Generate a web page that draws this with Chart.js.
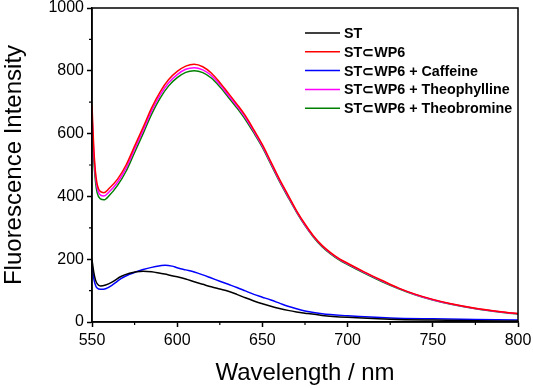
<!DOCTYPE html>
<html>
<head>
<meta charset="utf-8">
<script src="https://cdn.jsdelivr.net/npm/chart.js@4.4.0/dist/chart.umd.min.js"></script>
<style>
  html, body { margin: 0; padding: 0; background: #fff; }
  #wrap { width: 533px; height: 388px; position: relative; }
</style>
</head>
<body>
<div id="wrap"><canvas id="spectraChart" width="533" height="388"></canvas></div>
<script>
// Emission spectra, wavelength (nm) -> fluorescence intensity
const seriesLabels = ['ST', 'ST\u2282WP6', 'ST\u2282WP6 + Caffeine', 'ST\u2282WP6 + Theophylline', 'ST\u2282WP6 + Theobromine'];
const seriesColors = ['#000000', '#ff0000', '#0000ff', '#ff00ff', '#008000'];

const hostWl = [550, 551, 552, 553, 555, 557, 560, 565, 570, 575, 580, 585, 590, 595, 600, 605, 610, 615, 620, 625, 630, 635, 640, 645, 650, 655, 660, 665, 670, 675, 680, 685, 690, 695, 700, 710, 720, 730, 740, 750, 760, 775, 790, 800];
const stWp6 =       [690, 560, 480, 440, 415, 412, 425, 455, 500, 560, 620, 682, 733, 772, 798, 815, 821, 813, 793, 763, 729, 694, 657, 612, 565, 510, 455, 405, 355, 312, 274, 244, 221, 202, 187, 159, 133, 108, 88, 72, 59, 44, 33, 27];
const theophylline = [660, 545, 468, 428, 404, 401, 414, 445, 490, 550, 610, 672, 723, 762, 788, 805, 810, 803, 785, 756, 722, 688, 651, 607, 560, 506, 451, 401, 352, 309, 272, 242, 219, 200, 185, 157, 131, 107, 87, 71, 58, 43, 32, 26];
const theobromine =  [620, 520, 450, 412, 392, 389, 402, 435, 480, 540, 600, 662, 713, 752, 778, 795, 800, 794, 777, 749, 716, 682, 645, 602, 556, 502, 448, 398, 350, 307, 270, 240, 217, 198, 183, 155, 129, 106, 86, 70, 57, 42, 31, 25];

const stWl = [550, 551, 552, 553, 555, 558, 562, 567, 572, 576, 580, 585, 590, 595, 600, 605, 610, 615, 620, 625, 630, 635, 640, 645, 650, 655, 660, 665, 670, 675, 685, 700, 725, 750, 775, 800];
const stAlone =  [198, 160, 135, 122, 115, 118, 128, 145, 155, 160, 162, 160, 155, 150, 144, 137, 128, 120, 112, 105, 98, 88, 77, 67, 58, 50, 43, 37, 32, 28, 21, 15, 9, 6, 4, 3];

const caffWl = [550, 551, 552, 553, 555, 558, 562, 567, 572, 576, 580, 585, 590, 593, 597, 600, 605, 610, 615, 620, 625, 630, 635, 640, 645, 650, 655, 660, 665, 670, 675, 685, 700, 725, 750, 775, 800];
const caffeine = [180, 140, 118, 108, 104, 106, 118, 138, 152, 160, 167, 174, 179, 181, 178, 173, 166, 159, 150, 140, 130, 120, 110, 99, 88, 79, 70, 60, 50, 42, 35, 26, 20, 13, 10, 8, 6];

const xTicks = [550, 600, 650, 700, 750, 800];
const yTicks = [0, 200, 400, 600, 800, 1000];
const xMinor = [575, 625, 675, 725, 775];
const yMinor = [100, 300, 500, 700, 900];

function toPoints(xs, ys) {
    return xs.map((x, i) => ({ x: x, y: ys[i] }));
}

/**
 * Frame round the plot and the short minor ticks
 */
const framePlugin = {
    id: 'frame',
    afterDraw(chart) {
        const { ctx, chartArea: a, scales } = chart;
        ctx.save();
        ctx.strokeStyle = '#000';
        ctx.lineWidth = 1.5;
        ctx.strokeRect(a.left, a.top, a.right - a.left, a.bottom - a.top);
        ctx.lineWidth = 1.2;
        ctx.beginPath();
        xMinor.forEach(v => {
            const px = scales.x.getPixelForValue(v);
            ctx.moveTo(px, a.bottom);
            ctx.lineTo(px, a.bottom + 3);
        });
        yMinor.forEach(v => {
            const py = scales.y.getPixelForValue(v);
            ctx.moveTo(a.left, py);
            ctx.lineTo(a.left - 3, py);
        });
        ctx.stroke();
        ctx.restore();
    }
};

/**
 * Legend drawn inside the plot, top right
 */
const insideLegend = {
    id: 'insideLegend',
    afterDraw(chart) {
        const { ctx } = chart;
        const x0 = 305, lineLen = 35, y0 = 33, rowH = 18.8;
        ctx.save();
        ctx.font = 'bold 14.3px "Liberation Sans", Arial, sans-serif';
        ctx.textBaseline = 'middle';
        ctx.fillStyle = '#000';
        seriesLabels.forEach((label, i) => {
            const y = y0 + i * rowH;
            ctx.strokeStyle = seriesColors[i];
            ctx.lineWidth = 1.5;
            ctx.beginPath();
            ctx.moveTo(x0, y);
            ctx.lineTo(x0 + lineLen, y);
            ctx.stroke();
            ctx.fillText(label, x0 + lineLen + 4, y + 1);
        });
        ctx.restore();
    }
};

function lineSet(label, points, color) {
    return {
        label: label,
        data: points,
        borderColor: color,
        backgroundColor: color,
        borderWidth: 1.5,
        pointRadius: 0,
        cubicInterpolationMode: 'monotone',
        fill: false
    };
}

const ctx = document.getElementById('spectraChart');
new Chart(ctx, {
    type: 'line',
    data: {
        datasets: [
            lineSet(seriesLabels[0], toPoints(stWl, stAlone), seriesColors[0]),
            lineSet(seriesLabels[1], toPoints(hostWl, stWp6), seriesColors[1]),
            lineSet(seriesLabels[2], toPoints(caffWl, caffeine), seriesColors[2]),
            lineSet(seriesLabels[3], toPoints(hostWl, theophylline), seriesColors[3]),
            lineSet(seriesLabels[4], toPoints(hostWl, theobromine), seriesColors[4])
        ]
    },
    options: {
        responsive: false,
        animation: false,
        layout: {
            padding: { top: 8, right: 15, bottom: 0, left: 0 }
        },
        plugins: {
            legend: { display: false },
            tooltip: { enabled: false }
        },
        scales: {
            x: {
                type: 'linear',
                min: 550,
                max: 800,
                afterBuildTicks: scale => { scale.ticks = xTicks.map(v => ({ value: v })); },
                afterFit: scale => {
                    scale.height = 66;
                    scale.paddingLeft = 0;
                    scale.paddingRight = 0;
                },
                grid: {
                    drawOnChartArea: false,
                    drawTicks: true,
                    tickLength: 5,
                    tickColor: '#000',
                    tickWidth: 1.5
                },
                border: { display: true, color: '#000', width: 1.5 },
                ticks: {
                    color: '#000',
                    padding: 4,
                    maxRotation: 0,
                    callback: v => String(v),
                    font: { family: '"Liberation Sans", Arial, sans-serif', size: 16 }
                },
                title: {
                    display: true,
                    text: 'Wavelength / nm',
                    color: '#000',
                    padding: { top: 6, bottom: 0 },
                    font: { family: '"Liberation Sans", Arial, sans-serif', size: 24 }
                }
            },
            y: {
                min: 0,
                max: 1000,
                afterBuildTicks: scale => { scale.ticks = yTicks.map(v => ({ value: v })); },
                afterFit: scale => {
                    scale.width = 92;
                    scale.paddingTop = 0;
                    scale.paddingBottom = 0;
                },
                grid: {
                    drawOnChartArea: false,
                    drawTicks: true,
                    tickLength: 5,
                    tickColor: '#000',
                    tickWidth: 1.5
                },
                border: { display: true, color: '#000', width: 1.5 },
                ticks: {
                    color: '#000',
                    padding: 3,
                    callback: v => String(v),
                    font: { family: '"Liberation Sans", Arial, sans-serif', size: 16 }
                },
                title: {
                    display: true,
                    text: 'Fluorescence Intensity',
                    color: '#000',
                    padding: { top: 0, bottom: 2 },
                    font: { family: '"Liberation Sans", Arial, sans-serif', size: 24 }
                }
            }
        }
    },
    plugins: [framePlugin, insideLegend]
});
</script>
</body>
</html>
